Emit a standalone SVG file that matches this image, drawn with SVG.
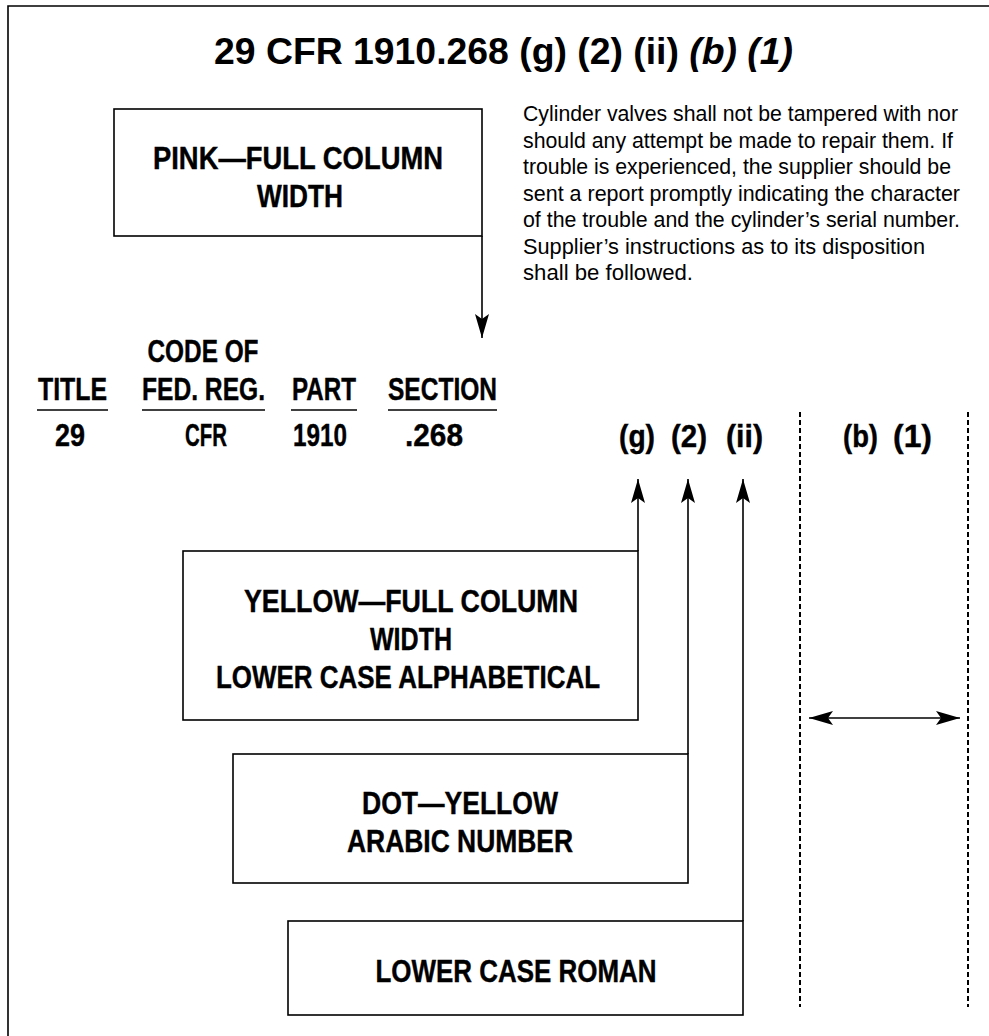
<svg xmlns="http://www.w3.org/2000/svg" width="989" height="1036" viewBox="0 0 989 1036">
<style>
.t{font-family:"Liberation Sans",Arial,sans-serif;fill:#000}
.lbl{font-family:"Liberation Sans",Arial,sans-serif;font-weight:bold;font-size:31px;text-anchor:middle;fill:#000;stroke:#000;stroke-width:0.4}
.para{font-family:"Liberation Sans",Arial,sans-serif;font-size:21.5px;fill:#000}
.box{fill:#fff;stroke:#000;stroke-width:1.6}
.ln{fill:none;stroke:#000;stroke-width:1.6}
.dash{fill:none;stroke:#000;stroke-width:2;stroke-dasharray:5 3}
</style>
<defs>
<marker id="ah" viewBox="-26 -9 28 18" refX="0" refY="0" markerWidth="28" markerHeight="18" markerUnits="userSpaceOnUse" orient="auto-start-reverse">
<path d="M0,0 L-24,-7 L-19,0 L-24,7 Z" fill="#000"/>
</marker>
</defs>
<rect width="989" height="1036" fill="#fff"/>
<path d="M8,1036 L8,6 L989,6" class="ln"/>
<text class="t" x="214" y="64" font-size="37" font-weight="bold" textLength="579" lengthAdjust="spacingAndGlyphs">29 CFR 1910.268 (g) (2) (ii) <tspan font-style="italic">(b) (1)</tspan></text>

<g id="pink">
<rect class="box" x="114" y="109" width="368" height="127"/>
<text class="lbl" x="298" y="169" textLength="290" lengthAdjust="spacingAndGlyphs">PINK—FULL  COLUMN</text>
<text class="lbl" x="300" y="207" textLength="86" lengthAdjust="spacingAndGlyphs">WIDTH</text>
</g>

<g id="paragraph">
<text class="para" x="523" y="121" textLength="435" lengthAdjust="spacingAndGlyphs">Cylinder valves shall not be tampered with nor</text>
<text class="para" x="523" y="147.5" textLength="430" lengthAdjust="spacingAndGlyphs">should any attempt be made to repair them. If</text>
<text class="para" x="523" y="174" textLength="428" lengthAdjust="spacingAndGlyphs">trouble is experienced, the supplier should be</text>
<text class="para" x="523" y="200.5" textLength="437" lengthAdjust="spacingAndGlyphs">sent a report promptly indicating the character</text>
<text class="para" x="523" y="227" textLength="437" lengthAdjust="spacingAndGlyphs">of the trouble and the cylinder’s serial number.</text>
<text class="para" x="523" y="253.5" textLength="402" lengthAdjust="spacingAndGlyphs">Supplier’s instructions as to its disposition</text>
<text class="para" x="523" y="280" textLength="170" lengthAdjust="spacingAndGlyphs">shall be followed.</text>
</g>

<g id="header-title">
<text class="lbl" x="72.5" y="400" textLength="69" lengthAdjust="spacingAndGlyphs">TITLE</text>
<line class="ln" x1="37" y1="410" x2="108" y2="410"/>
<text class="lbl" x="70" y="446" textLength="30" lengthAdjust="spacingAndGlyphs">29</text>
</g>
<g id="header-cfr">
<text class="lbl" x="203" y="362" textLength="111" lengthAdjust="spacingAndGlyphs">CODE OF</text>
<text class="lbl" x="203.5" y="400" textLength="123" lengthAdjust="spacingAndGlyphs">FED. REG.</text>
<line class="ln" x1="142" y1="410" x2="265" y2="410"/>
<text class="lbl" x="206" y="446" textLength="42" lengthAdjust="spacingAndGlyphs">CFR</text>
</g>
<g id="header-part">
<text class="lbl" x="324" y="400" textLength="64" lengthAdjust="spacingAndGlyphs">PART</text>
<line class="ln" x1="291" y1="410" x2="357" y2="410"/>
<text class="lbl" x="320" y="446" textLength="54" lengthAdjust="spacingAndGlyphs">1910</text>
</g>
<g id="header-section">
<text class="lbl" x="442.5" y="400" textLength="109" lengthAdjust="spacingAndGlyphs">SECTION</text>
<line class="ln" x1="388" y1="410" x2="497" y2="410"/>
<text class="lbl" x="434" y="446" textLength="58" lengthAdjust="spacingAndGlyphs">.268</text>
</g>

<g id="subparts">
<text class="lbl" x="637" y="447" textLength="36" lengthAdjust="spacingAndGlyphs">(g)</text>
<text class="lbl" x="689" y="447" textLength="36" lengthAdjust="spacingAndGlyphs">(2)</text>
<text class="lbl" x="744.5" y="447" textLength="37" lengthAdjust="spacingAndGlyphs">(ii)</text>
<text class="lbl" x="860.5" y="447" textLength="35" lengthAdjust="spacingAndGlyphs">(b)</text>
<text class="lbl" x="912.5" y="447" textLength="39" lengthAdjust="spacingAndGlyphs">(1)</text>
</g>

<g id="yellow">
<rect class="box" x="183" y="551" width="455" height="169"/>
<text class="lbl" x="411" y="612" textLength="334" lengthAdjust="spacingAndGlyphs">YELLOW—FULL COLUMN</text>
<text class="lbl" x="411" y="650" textLength="82" lengthAdjust="spacingAndGlyphs">WIDTH</text>
<text class="lbl" x="408" y="688" textLength="384" lengthAdjust="spacingAndGlyphs">LOWER CASE ALPHABETICAL</text>
</g>

<g id="dot">
<rect class="box" x="233" y="754" width="455" height="129"/>
<text class="lbl" x="460" y="814" textLength="196" lengthAdjust="spacingAndGlyphs">DOT—YELLOW</text>
<text class="lbl" x="460" y="852" textLength="226" lengthAdjust="spacingAndGlyphs">ARABIC  NUMBER</text>
</g>

<g id="roman">
<rect class="box" x="288" y="921" width="455" height="94"/>
<text class="lbl" x="516" y="982" textLength="281" lengthAdjust="spacingAndGlyphs">LOWER CASE ROMAN</text>
</g>

<g id="connectors">
<line class="ln" x1="482" y1="236" x2="482" y2="338" marker-end="url(#ah)"/>
<line class="ln" x1="638" y1="551" x2="638" y2="479" marker-end="url(#ah)"/>
<line class="ln" x1="688" y1="754" x2="688" y2="479" marker-end="url(#ah)"/>
<line class="ln" x1="743" y1="921" x2="743" y2="479" marker-end="url(#ah)"/>
<line class="dash" x1="800" y1="412" x2="800" y2="1007"/>
<line class="dash" x1="968" y1="412" x2="968" y2="1007"/>
<line class="ln" x1="809" y1="718" x2="960" y2="718" marker-start="url(#ah)" marker-end="url(#ah)"/>
</g>
</svg>
